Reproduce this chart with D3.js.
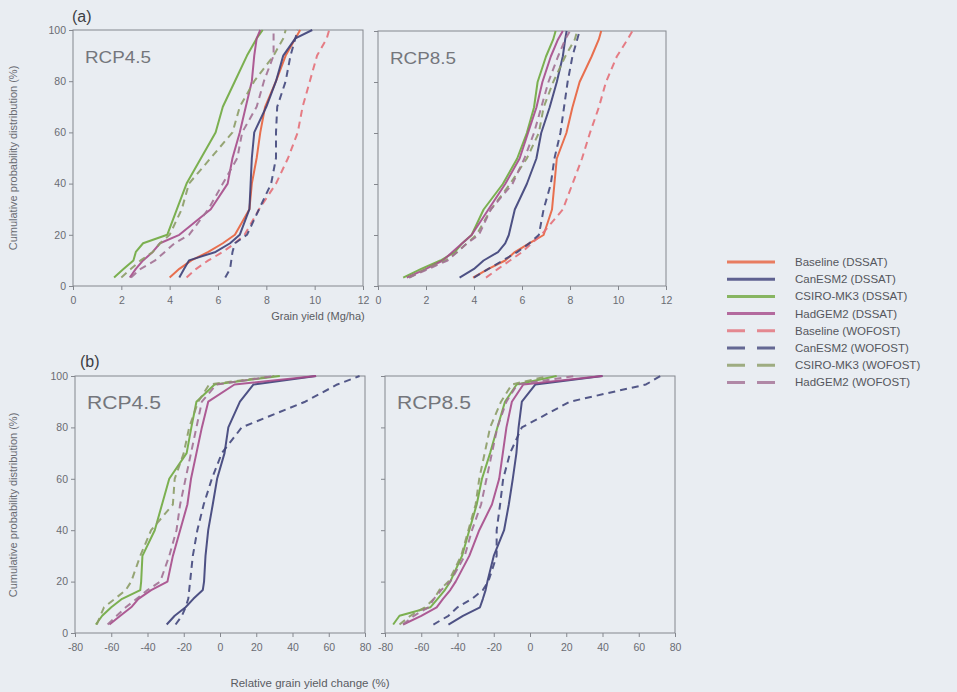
<!DOCTYPE html>
<html>
<head>
<meta charset="utf-8">
<script src="https://cdn.jsdelivr.net/npm/d3@7"></script>
<style>
  body { margin: 0; background: #e9edf2; }
  svg { display: block; font-family: "Liberation Sans", Arial, sans-serif; }
</style>
</head>
<body>
<div class="container"></div>
<script>
// cumulative probability levels (%) at which each curve was read
const levels = [3.3, 6.7, 10, 13.3, 16.7, 20, 30, 40, 50, 60, 70, 80, 90, 96.7, 100];

const seriesNames = ["Baseline (DSSAT)", "CanESM2 (DSSAT)", "CSIRO-MK3 (DSSAT)", "HadGEM2 (DSSAT)",
                     "Baseline (WOFOST)", "CanESM2 (WOFOST)", "CSIRO-MK3 (WOFOST)", "HadGEM2 (WOFOST)"];
const seriesColors = ["#e8603c", "#3c3f78", "#6fa83e", "#a64a8a",
                      "#e46f78", "#43477c", "#8c9c66", "#a27094"];
const seriesDashed = [false, false, false, false, true, true, true, true];

// (a) grain yield, Mg/ha
const yieldRcp45 = [
  [4.0, 4.4, 4.9, 5.6, 6.2, 6.7, 7.3, 7.4, 7.6, 7.75, 7.95, 8.4, 8.8, 9.2, 9.4],
  [4.4, 4.6, 4.8, 5.9, 6.5, 6.9, 7.3, 7.35, 7.4, 7.5, 8.0, 8.4, 8.7, 9.2, 9.9],
  [1.7, 2.1, 2.5, 2.6, 2.9, 3.9, 4.3, 4.7, 5.3, 5.9, 6.2, 6.7, 7.2, 7.6, 7.85],
  [2.35, 2.6, 2.9, 3.3, 3.6, 4.4, 5.7, 6.4, 6.6, 6.9, 7.15, 7.4, 7.5, 7.6, 7.75],
  [4.7, 5.1, 5.6, 6.2, 6.7, 7.1, 7.7, 8.4, 8.9, 9.3, 9.5, 9.8, 10.1, 10.5, 10.6],
  [6.3, 6.5, 6.55, 6.6, 6.7, 7.2, 7.7, 8.2, 8.4, 8.4, 8.45, 8.8, 9.0, 9.2, 9.3],
  [2.0, 2.4, 2.8, 3.3, 3.6, 4.0, 4.5, 4.8, 5.7, 6.6, 6.9, 7.5, 8.3, 8.7, 8.8],
  [2.4, 2.8, 3.4, 3.8, 4.2, 4.8, 5.6, 6.2, 6.8, 7.0, 7.6, 7.9, 8.3, 8.3, 8.3]
];
const yieldRcp85 = [
  [3.96, 4.6, 5.3, 5.7, 6.3, 6.9, 7.25, 7.35, 7.45, 7.85, 8.1, 8.4, 8.9, 9.2, 9.3],
  [3.4, 4.0, 4.4, 5.0, 5.3, 5.45, 5.7, 6.2, 6.6, 6.8, 7.15, 7.45, 7.7, 7.8, 7.86],
  [1.05, 1.8, 2.6, 3.2, 3.5, 3.9, 4.4, 5.2, 5.8, 6.2, 6.5, 6.65, 7.0, 7.3, 7.4],
  [1.2, 2.0, 2.7, 3.1, 3.5, 3.9, 4.6, 5.3, 5.9, 6.25, 6.6, 6.85, 7.2, 7.5, 7.7],
  [4.5, 5.0, 5.5, 6.0, 6.4, 6.8, 7.7, 8.1, 8.5, 8.83, 9.2, 9.5, 9.95, 10.4, 10.6],
  [4.0, 4.6, 5.2, 5.8, 6.3, 6.7, 6.9, 7.2, 7.35, 7.6, 7.75, 7.9, 8.1, 8.3, 8.4],
  [1.3, 2.0, 2.8, 3.3, 3.7, 4.1, 4.7, 5.5, 6.2, 6.7, 6.9, 7.3, 7.8, 8.2, 8.3],
  [1.3, 2.1, 2.9, 3.3, 3.7, 4.2, 4.7, 5.6, 6.1, 6.5, 6.8, 7.1, 7.5, 7.8, 8.0]
];

// (b) relative grain yield change, % (no baseline curves)
const changeRcp45 = [
  null,
  [-29.4, -25, -19, -14.7, -9.5, -8.8, -8, -6.5, -4, -1.6, 2.5, 4.6, 11, 18.5, 53],
  [-68.5, -65, -60, -54, -44, -43.5, -42.8, -36, -32, -28, -18.4, -15.8, -13, -3, 33],
  [-61, -55, -49, -45, -38, -29, -26, -22, -18, -16, -13, -10, -6.5, 8, 53],
  null,
  [-24.5, -21, -19, -17.5, -17, -16.5, -15, -12.5, -9, -4.5, 1, 12, 47, 64.7, 77],
  [-68, -66, -64, -58, -52, -49, -44, -38, -26, -25, -20, -17, -12, -6, 30],
  [-62, -57, -52, -46, -40, -33, -28, -24, -22, -19, -16, -13, -10, -2, 30]
];
const changeRcp85 = [
  null,
  [-45, -37, -27.6, -26, -24.5, -23.5, -20, -14.3, -11.7, -9.5, -7.5, -6.3, -4.5, 3, 40],
  [-75.5, -72, -55, -51, -47, -44, -37.5, -33.5, -29.4, -26.5, -22, -18, -13.8, -7.4, 14.7],
  [-70, -60, -51.5, -48, -44, -41, -33.5, -28, -21, -17, -15, -13, -10, -3.7, 40],
  null,
  [-53.3, -45, -40, -32, -26, -23, -18.4, -18.4, -16.5, -14.8, -11, -4.5, 22, 64, 72],
  [-72, -66, -58, -53, -50, -45, -38, -34, -30, -28, -25, -22, -16, -10, 10],
  [-70, -64, -56, -53, -49, -44, -36, -32, -27, -24, -21, -18, -13, -7, 25]
];

const yieldTicks = [0, 2, 4, 6, 8, 10, 12];
const changeTicks = [-80, -60, -40, -20, 0, 20, 40, 60, 80];
const probTicks = [0, 20, 40, 60, 80, 100];

const w = 957, h = 692;
const svg = d3.select('.container').append('svg')
    .attr('width', w)
    .attr('height', h);

const panels = [
  {data: yieldRcp45, label: 'RCP4.5', domain: [0, 12], ticks: yieldTicks, x0: 73, x1: 363, y0: 30, y1: 286, ylab: true, fs: 16, tl: 66},
  {data: yieldRcp85, label: 'RCP8.5', domain: [0, 12], ticks: yieldTicks, x0: 378, x1: 666, y0: 31, y1: 286, ylab: false, fs: 16, tl: 66},
  {data: changeRcp45, label: 'RCP4.5', domain: [-80, 80], ticks: changeTicks, x0: 75, x1: 365, y0: 376, y1: 633, ylab: true, fs: 18, tl: 74},
  {data: changeRcp85, label: 'RCP8.5', domain: [-80, 80], ticks: changeTicks, x0: 385, x1: 675, y0: 376, y1: 633, ylab: false, fs: 18, tl: 74}
];

panels.forEach(function(p){
  const x = d3.scaleLinear().domain(p.domain).range([p.x0, p.x1]);
  const y = d3.scaleLinear().domain([0, 100]).range([p.y1, p.y0]);
  const g = svg.append('g');

  g.append('rect')
    .attr('x', p.x0).attr('y', p.y0)
    .attr('width', p.x1 - p.x0).attr('height', p.y1 - p.y0)
    .attr('fill', 'none').attr('stroke', '#84878e').attr('stroke-width', 1);

  const xAxis = d3.axisBottom(x).tickValues(p.ticks).tickSize(4).tickFormat(d => String(d));
  const yAxis = d3.axisLeft(y).tickValues(probTicks).tickSize(4)
      .tickFormat(d => p.ylab ? String(d) : '');

  const gx = g.append('g').attr('transform', 'translate(0,' + p.y1 + ')').call(xAxis);
  const gy = g.append('g').attr('transform', 'translate(' + p.x0 + ',0)').call(yAxis);
  [gx, gy].forEach(function(a){
    a.select('.domain').remove();
    a.selectAll('line').attr('stroke', '#84878e');
    a.selectAll('text').attr('fill', '#6a6c72').style('font-size', '10.5px');
  });
  gx.selectAll('text').attr('dy', '1em');

  const line = d3.line()
      .x(d => x(d[0]))
      .y(d => y(d[1]));

  p.data.forEach(function(vals, i){
    if (!vals) return;
    const pts = vals.map((v, k) => [v, levels[k]]);
    g.append('path')
      .datum(pts)
      .attr('d', line)
      .attr('fill', 'none')
      .attr('stroke', seriesColors[i])
      .attr('stroke-width', 2)
      .attr('stroke-linejoin', 'round')
      .attr('stroke-dasharray', seriesDashed[i] ? '7,5' : null)
      .attr('opacity', 0.9);
  });

  g.append('text')
    .attr('x', p.x0 + 12).attr('y', p.y0 + 33)
    .attr('fill', '#74767c')
    .attr('textLength', p.tl)
    .attr('lengthAdjust', 'spacingAndGlyphs')
    .style('font-size', p.fs + 'px')
    .text(p.label);
});

// panel letters
svg.append('text').attr('x', 72).attr('y', 22).attr('fill', '#3c3e44').style('font-size', '16px').text('(a)');
svg.append('text').attr('x', 80).attr('y', 367).attr('fill', '#3c3e44').style('font-size', '16px').text('(b)');

// axis titles
svg.append('text').attr('x', 318).attr('y', 320).attr('text-anchor', 'middle')
  .attr('fill', '#5a5c62').style('font-size', '11px').text('Grain yield (Mg/ha)');
svg.append('text').attr('x', 310).attr('y', 687).attr('text-anchor', 'middle')
  .attr('fill', '#5a5c62').style('font-size', '11.5px').text('Relative grain yield change (%)');
[158, 505].forEach(function(cy){
  svg.append('text')
    .attr('transform', 'translate(17,' + cy + ') rotate(-90)')
    .attr('text-anchor', 'middle')
    .attr('fill', '#6a6c72').style('font-size', '11px')
    .text('Cumulative probability distribution (%)');
});

// legend
const legend = svg.append('g').attr('transform', 'translate(727,262)');
seriesNames.forEach(function(name, i){
  const row = legend.append('g').attr('transform', 'translate(0,' + (i * 17.2) + ')');
  row.append('line')
    .attr('x1', 0).attr('x2', 48).attr('y1', 0).attr('y2', 0)
    .attr('stroke', seriesColors[i]).attr('stroke-width', 3)
    .attr('stroke-dasharray', seriesDashed[i] ? '18,12' : null)
    .attr('opacity', 0.8);
  row.append('text')
    .attr('x', 68).attr('y', 4)
    .attr('fill', '#55575d').style('font-size', '11.5px')
    .text(name);
});
</script>
</body>
</html>
